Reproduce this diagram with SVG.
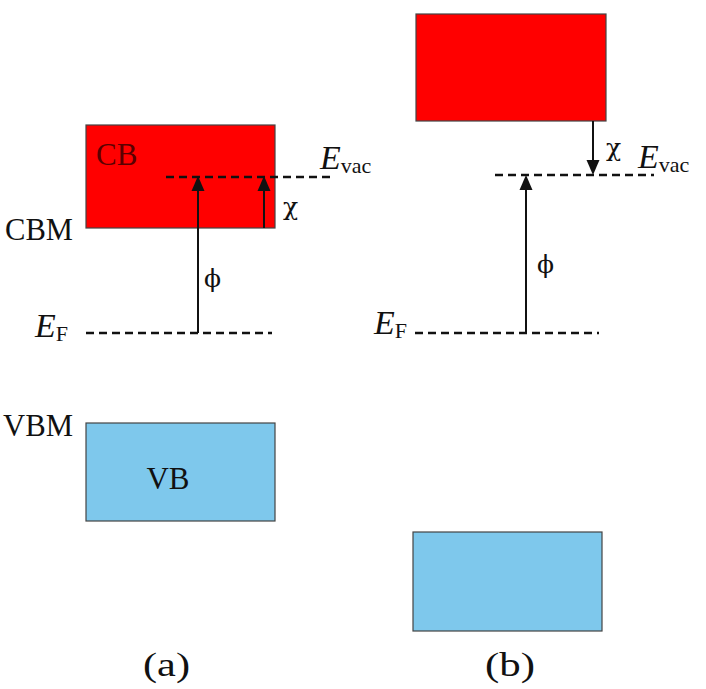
<svg xmlns="http://www.w3.org/2000/svg" width="706" height="689" viewBox="0 0 706 689">
<style>
.cb{fill:#ff0000;stroke:#444;stroke-width:1.2}
.vb{fill:#7ec8ec;stroke:#444;stroke-width:1.2}
.t{font-family:"Liberation Serif",serif;font-size:31px;fill:#111}
.e{font-family:"Liberation Serif",serif;font-style:italic;font-size:34px;fill:#111}
.s{font-family:"Liberation Serif",serif;font-style:normal;font-size:22px}
.g{font-family:"DejaVu Serif",serif;font-size:25px;fill:#111}
.dash{stroke:#111;stroke-width:2.4;stroke-dasharray:8,5;fill:none}
.ln{stroke:#111;stroke-width:2;fill:none}
.hd{fill:#111}
</style>
<rect width="706" height="689" fill="#fff"/>
<g id="a-cb"><rect class="cb" x="86" y="125" width="189" height="103"/><text x="96" y="165" class="t" style="fill:#5a0000">CB</text></g>
<g id="a-vb"><rect class="vb" x="86" y="423" width="189" height="98"/><text x="168" y="489" class="t" text-anchor="middle">VB</text></g>
<g id="b-cb"><rect class="cb" x="416" y="14" width="190" height="107"/></g>
<g id="b-vb"><rect class="vb" x="413" y="532" width="189" height="99"/></g>
<g id="levels">
<line class="dash" x1="166" y1="177" x2="334" y2="177"/>
<line class="dash" x1="86" y1="333" x2="272" y2="333"/>
<line class="dash" x1="495" y1="175" x2="654" y2="175"/>
<line class="dash" x1="415" y1="333" x2="599" y2="333"/>
</g>
<g id="connectors">
<path class="ln" d="M198,333 V190"/>
<path class="hd" d="M198,176 l-6.5,15 h13 Z"/>
<path class="ln" d="M264,228 V190"/>
<path class="hd" d="M264,176 l-6.5,15 h13 Z"/>
<path class="ln" d="M593,121 V161"/>
<path class="hd" d="M593,175 l-6.5,-15 h13 Z"/>
<path class="ln" d="M526,333 V189"/>
<path class="hd" d="M526,175 l-6.5,15 h13 Z"/>
</g>
<g id="labels">
<text x="5" y="240" class="t" textLength="68" lengthAdjust="spacingAndGlyphs">CBM</text>
<text x="3" y="436" class="t" textLength="70" lengthAdjust="spacingAndGlyphs">VBM</text>
<text x="320" y="169" class="e">E<tspan class="s" dy="4">vac</tspan></text>
<text x="638" y="168" class="e">E<tspan class="s" dy="4">vac</tspan></text>
<text x="35" y="337" class="e">E<tspan class="s" dy="4">F</tspan></text>
<text x="374" y="334" class="e">E<tspan class="s" dy="4">F</tspan></text>
<text x="283" y="215" class="g">χ</text>
<text x="606" y="156" class="g">χ</text>
<text x="204" y="287" class="g">ϕ</text>
<text x="537" y="273" class="g">ϕ</text>
<text x="143" y="676" class="t" textLength="47" lengthAdjust="spacingAndGlyphs" style="font-size:34px">(a)</text>
<text x="485" y="676" class="t" textLength="50" lengthAdjust="spacingAndGlyphs" style="font-size:34px">(b)</text>
</g>
</svg>
